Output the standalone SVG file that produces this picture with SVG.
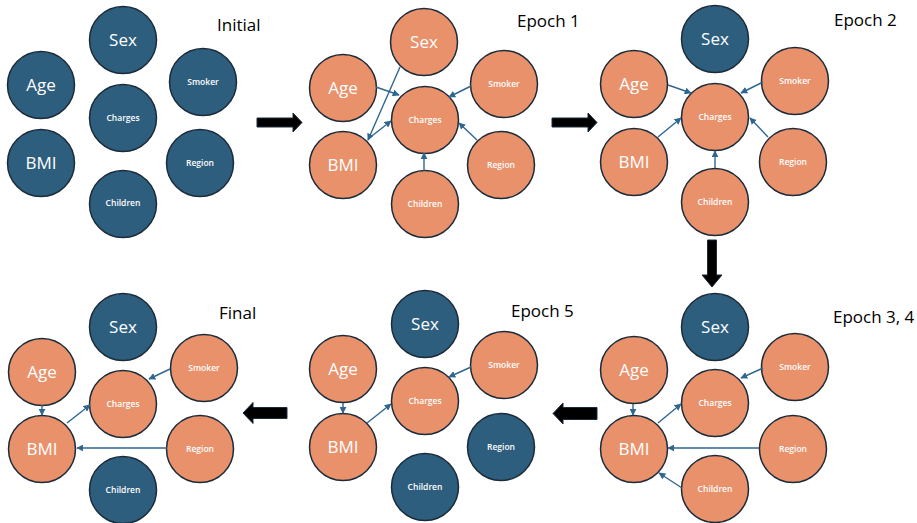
<svg xmlns="http://www.w3.org/2000/svg" width="917" height="523" viewBox="0 0 917 523">
<defs>
<style>
.o{fill:#E8916B;stroke:#1b2b3a;stroke-width:1.5}
.d{fill:#2D5E7E;stroke:#1b2b3a;stroke-width:1.5}
.b{font-family:"Open Sans","Liberation Sans",sans-serif;font-size:17px;fill:#fff;text-anchor:middle}
.s{font-family:"Open Sans","Liberation Sans",sans-serif;font-size:8.5px;font-weight:600;fill:#fff;text-anchor:middle}
.t{font-family:"Open Sans","Liberation Sans",sans-serif;font-size:17px;fill:#000}
.e{stroke:#2F6690;stroke-width:1.4;fill:none;marker-end:url(#ah)}
.big{fill:#000;stroke:#1b2b3a;stroke-width:1}
</style>
<marker id="ah" viewBox="0 0 10 10" refX="9" refY="5" markerWidth="7" markerHeight="7" markerUnits="userSpaceOnUse" orient="auto">
<path d="M0,0 L10,5 L0,10 z" fill="#2F6690"/>
</marker>
</defs>

<!-- Initial -->
<g id="initial">
<text class="t" x="217" y="31">Initial</text>
<g id="i-sex"><circle class="d" cx="123" cy="40" r="33.5"/><text class="b" x="123" y="46">Sex</text></g>
<g id="i-age"><circle class="d" cx="41" cy="85" r="33.5"/><text class="b" x="41" y="91">Age</text></g>
<g id="i-bmi"><circle class="d" cx="41" cy="163" r="33.5"/><text class="b" x="41" y="169">BMI</text></g>
<g id="i-charges"><circle class="d" cx="123" cy="118" r="33.5"/><text class="s" x="123" y="121">Charges</text></g>
<g id="i-children"><circle class="d" cx="123" cy="204" r="33.5"/><text class="s" x="123" y="206">Children</text></g>
<g id="i-smoker"><circle class="d" cx="203" cy="82" r="33.5"/><text class="s" x="203" y="85">Smoker</text></g>
<g id="i-region"><circle class="d" cx="200" cy="163" r="33.5"/><text class="s" x="200" y="166">Region</text></g>
</g>

<!-- Epoch 1 -->
<g id="epoch1">
<text class="t" x="517" y="27">Epoch 1</text>
<g id="e1-sex"><circle class="o" cx="424" cy="42" r="33.5"/><text class="b" x="424" y="48">Sex</text></g>
<g id="e1-age"><circle class="o" cx="343" cy="88" r="33.5"/><text class="b" x="343" y="94">Age</text></g>
<g id="e1-bmi"><circle class="o" cx="343" cy="165" r="33.5"/><text class="b" x="343" y="171">BMI</text></g>
<g id="e1-charges"><circle class="o" cx="425" cy="120" r="33.5"/><text class="s" x="425" y="123">Charges</text></g>
<g id="e1-children"><circle class="o" cx="425" cy="204" r="33.5"/><text class="s" x="425" y="207">Children</text></g>
<g id="e1-smoker"><circle class="o" cx="504" cy="84" r="33.5"/><text class="s" x="504" y="87">Smoker</text></g>
<g id="e1-region"><circle class="o" cx="501" cy="165" r="33.5"/><text class="s" x="501" y="168">Region</text></g>
</g>

<!-- Epoch 2 -->
<g id="epoch2">
<text class="t" x="834" y="26">Epoch 2</text>
<g id="e2-sex"><circle class="d" cx="715" cy="39" r="33.5"/><text class="b" x="715" y="45">Sex</text></g>
<g id="e2-age"><circle class="o" cx="634" cy="84" r="33.5"/><text class="b" x="634" y="90">Age</text></g>
<g id="e2-bmi"><circle class="o" cx="634" cy="162" r="33.5"/><text class="b" x="634" y="168">BMI</text></g>
<g id="e2-charges"><circle class="o" cx="715" cy="117" r="33.5"/><text class="s" x="715" y="120">Charges</text></g>
<g id="e2-children"><circle class="o" cx="715" cy="202" r="33.5"/><text class="s" x="715" y="205">Children</text></g>
<g id="e2-smoker"><circle class="o" cx="795" cy="81" r="33.5"/><text class="s" x="795" y="84">Smoker</text></g>
<g id="e2-region"><circle class="o" cx="793" cy="162" r="33.5"/><text class="s" x="793" y="165">Region</text></g>
</g>

<!-- Epoch 3, 4 -->
<g id="epoch34">
<text class="t" x="833" y="323">Epoch 3, 4</text>
<g id="e3-sex"><circle class="d" cx="715" cy="327" r="33.5"/><text class="b" x="715" y="333">Sex</text></g>
<g id="e3-age"><circle class="o" cx="634" cy="370" r="33.5"/><text class="b" x="634" y="376">Age</text></g>
<g id="e3-bmi"><circle class="o" cx="634" cy="449" r="33.5"/><text class="b" x="634" y="455">BMI</text></g>
<g id="e3-charges"><circle class="o" cx="715" cy="403" r="33.5"/><text class="s" x="715" y="406">Charges</text></g>
<g id="e3-children"><circle class="o" cx="715" cy="489" r="33.5"/><text class="s" x="715" y="492">Children</text></g>
<g id="e3-smoker"><circle class="o" cx="795" cy="367" r="33.5"/><text class="s" x="795" y="370">Smoker</text></g>
<g id="e3-region"><circle class="o" cx="793" cy="449" r="33.5"/><text class="s" x="793" y="452">Region</text></g>
</g>

<!-- Epoch 5 -->
<g id="epoch5">
<text class="t" x="511" y="317">Epoch 5</text>
<g id="e5-sex"><circle class="d" cx="425" cy="324" r="33.5"/><text class="b" x="425" y="330">Sex</text></g>
<g id="e5-age"><circle class="o" cx="343" cy="369" r="33.5"/><text class="b" x="343" y="375">Age</text></g>
<g id="e5-bmi"><circle class="o" cx="343" cy="447" r="33.5"/><text class="b" x="343" y="453">BMI</text></g>
<g id="e5-charges"><circle class="o" cx="425" cy="401" r="33.5"/><text class="s" x="425" y="404">Charges</text></g>
<g id="e5-children"><circle class="d" cx="425" cy="487" r="33.5"/><text class="s" x="425" y="490">Children</text></g>
<g id="e5-smoker"><circle class="o" cx="504" cy="365" r="33.5"/><text class="s" x="504" y="368">Smoker</text></g>
<g id="e5-region"><circle class="d" cx="501" cy="447" r="33.5"/><text class="s" x="501" y="450">Region</text></g>
</g>

<!-- Final -->
<g id="final">
<text class="t" x="219" y="319">Final</text>
<g id="f-sex"><circle class="d" cx="123" cy="327" r="33.5"/><text class="b" x="123" y="333">Sex</text></g>
<g id="f-age"><circle class="o" cx="42" cy="372" r="33.5"/><text class="b" x="42" y="378">Age</text></g>
<g id="f-bmi"><circle class="o" cx="42" cy="449" r="33.5"/><text class="b" x="42" y="455">BMI</text></g>
<g id="f-charges"><circle class="o" cx="123" cy="404" r="33.5"/><text class="s" x="123" y="407">Charges</text></g>
<g id="f-children"><circle class="d" cx="123" cy="490" r="33.5"/><text class="s" x="123" y="493">Children</text></g>
<g id="f-smoker"><circle class="o" cx="204" cy="368" r="33.5"/><text class="s" x="204" y="371">Smoker</text></g>
<g id="f-region"><circle class="o" cx="200" cy="449" r="33.5"/><text class="s" x="200" y="452">Region</text></g>
</g>

<!-- Connectors -->
<g id="connectors">
<!-- Epoch 1 -->
<line class="e" x1="376" y1="87" x2="399" y2="95"/>
<line class="e" x1="400" y1="67" x2="368" y2="140"/>
<line class="e" x1="368" y1="139" x2="391" y2="121"/>
<line class="e" x1="471" y1="86" x2="449" y2="97"/>
<line class="e" x1="477" y1="140" x2="459" y2="123"/>
<line class="e" x1="424" y1="171" x2="424" y2="153"/>
<!-- Epoch 2 -->
<line class="e" x1="668" y1="85" x2="691" y2="93"/>
<line class="e" x1="658" y1="137" x2="681" y2="118"/>
<line class="e" x1="763" y1="82" x2="741" y2="93"/>
<line class="e" x1="768" y1="137" x2="750" y2="118"/>
<line class="e" x1="715" y1="168" x2="715" y2="151"/>
<!-- Epoch 3,4 -->
<line class="e" x1="633" y1="404" x2="633" y2="415"/>
<line class="e" x1="658" y1="423" x2="681" y2="404"/>
<line class="e" x1="763" y1="368" x2="741" y2="378"/>
<line class="e" x1="759" y1="448" x2="668" y2="448"/>
<line class="e" x1="682" y1="488" x2="659" y2="473"/>
<!-- Epoch 5 -->
<line class="e" x1="343" y1="403" x2="343" y2="413"/>
<line class="e" x1="367" y1="423" x2="391" y2="404"/>
<line class="e" x1="471" y1="367" x2="449" y2="377"/>
<!-- Final -->
<line class="e" x1="42" y1="405" x2="42" y2="415"/>
<line class="e" x1="67" y1="423" x2="90" y2="405"/>
<line class="e" x1="170" y1="369" x2="149" y2="379"/>
<line class="e" x1="167" y1="448" x2="77" y2="448"/>
<!-- Progress arrows -->
<path class="big" d="M257,118 L293,118 L293,113 L302,122.5 L293,132 L293,127 L257,127 Z"/>
<path class="big" d="M552,118 L588,118 L588,113 L597,122.5 L588,132 L588,127 L552,127 Z"/>
<path class="big" d="M707.5,240 L716.5,240 L716.5,275 L722,275 L712,287 L702,275 L707.5,275 Z"/>
<path class="big" d="M597,407.5 L563,407.5 L563,403 L553,413.5 L563,424 L563,419.5 L597,419.5 Z"/>
<path class="big" d="M287,407.5 L253,407.5 L253,402.5 L243,413 L253,423.5 L253,418.5 L287,418.5 Z"/>
</g>
</svg>
